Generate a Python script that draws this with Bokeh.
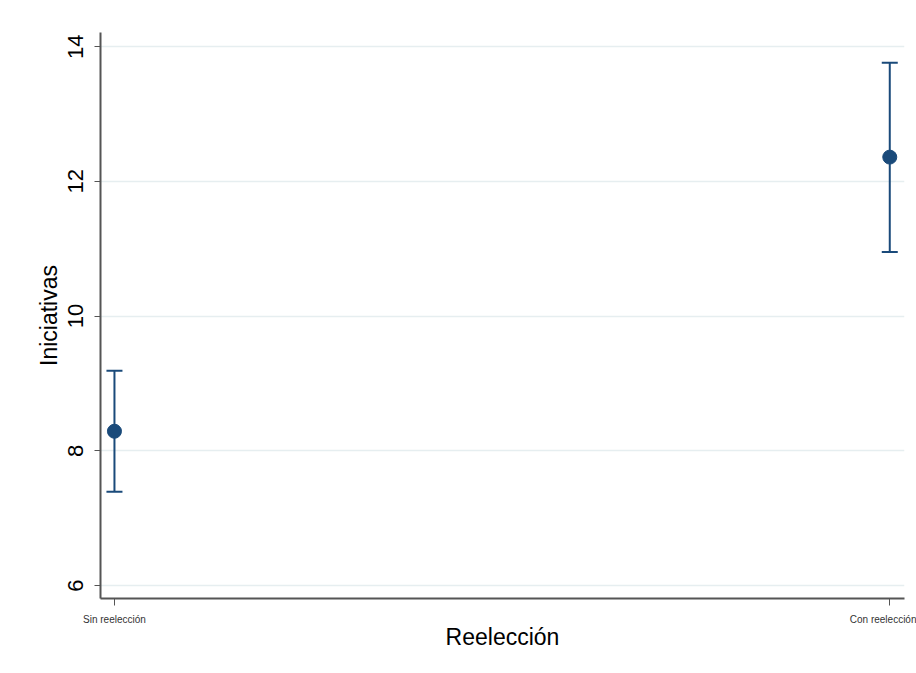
from bokeh.plotting import figure
from bokeh.models import ColumnDataSource, Whisker, TeeHead, FixedTicker, Range1d
from bokeh.embed import file_html
from bokeh.resources import INLINE

categories = ["Sin reelección", "Con reelección"]
means = [8.29, 12.36]
lower = [7.39, 10.95]
upper = [9.19, 13.76]
y_ticks = [6, 8, 10, 12, 14]

xs = list(range(len(categories)))
src = ColumnDataSource(dict(x=xs, mean=means, lower=lower, upper=upper))

p = figure(width=916, height=672, output_backend="svg", toolbar_location=None,
           x_range=Range1d(-0.018, 1.019), y_range=Range1d(5.807, 14.21),
           min_border_left=100, min_border_top=32, min_border_right=12, min_border_bottom=74)
p.background_fill_color = "white"
p.border_fill_color = "white"
p.outline_line_color = None

navy = "#1a4a7a"
w = Whisker(source=src, base="x", lower="lower", upper="upper", line_color=navy, line_width=2,
            upper_head=TeeHead(size=16, line_color=navy, line_width=2),
            lower_head=TeeHead(size=16, line_color=navy, line_width=2))
p.add_layout(w)
p.scatter("x", "mean", source=src, size=14, color=navy)

# y axis
p.yaxis.ticker = FixedTicker(ticks=y_ticks)
p.yaxis.major_label_orientation = "vertical"
p.yaxis.major_label_text_font = "Liberation Sans"
p.yaxis.major_label_text_font_size = "22px"
p.yaxis.major_label_text_color = "black"
p.yaxis.major_label_standoff = 11
p.yaxis.axis_label = "Iniciativas"
p.yaxis.axis_label_text_font = "Liberation Sans"
p.yaxis.axis_label_text_font_size = "23px"
p.yaxis.axis_label_text_font_style = "normal"
p.yaxis.axis_label_text_color = "black"
p.yaxis.axis_label_standoff = 4
p.yaxis.axis_line_color = "#555555"
p.yaxis.axis_line_width = 2
p.yaxis.major_tick_line_color = "#555555"
p.yaxis.major_tick_out = 6
p.yaxis.major_tick_in = 0
p.yaxis.minor_tick_line_color = None

# x axis
p.xaxis.ticker = FixedTicker(ticks=xs)
p.xaxis.major_label_overrides = {i: c for i, c in enumerate(categories)}
p.xaxis.major_label_text_font = "Liberation Sans"
p.xaxis.major_label_text_font_size = "10px"
p.xaxis.major_label_text_color = "#333333"
p.xaxis.major_label_standoff = 8
p.xaxis.axis_label = "Reelección"
p.xaxis.axis_label_text_font = "Liberation Sans"
p.xaxis.axis_label_text_font_size = "23px"
p.xaxis.axis_label_text_font_style = "normal"
p.xaxis.axis_label_text_color = "black"
p.xaxis.axis_label_standoff = -4
p.xaxis.axis_line_color = "#555555"
p.xaxis.axis_line_width = 2
p.xaxis.major_tick_line_color = "#555555"
p.xaxis.major_tick_out = 7
p.xaxis.major_tick_in = 0
p.xaxis.minor_tick_line_color = None

p.xgrid.grid_line_color = None
p.ygrid.ticker = FixedTicker(ticks=y_ticks)
p.ygrid.grid_line_color = "#e6eef0"
p.ygrid.grid_line_width = 1.5

open("out.html", "w").write(file_html(p, INLINE))
